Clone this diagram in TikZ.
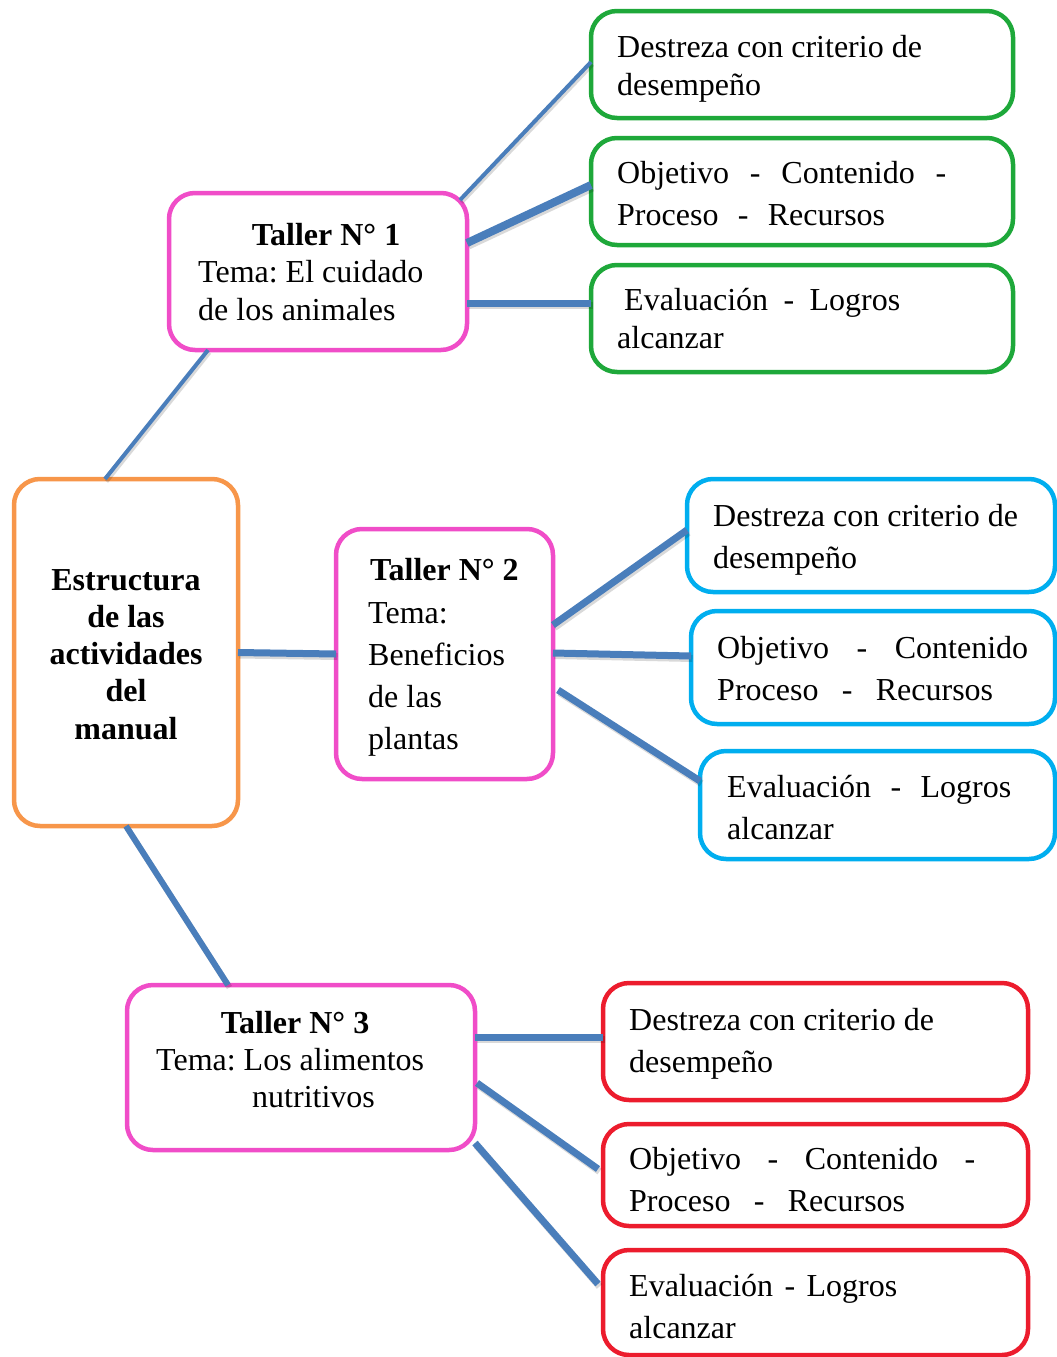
\documentclass[tikz,border=0pt]{standalone}
\usepackage{fontspec}
\setmainfont{Liberation Serif}
\usetikzlibrary{calc}
\frenchspacing
\definecolor{cpink}{HTML}{F04DC8}
\definecolor{cgreen}{HTML}{1EA83A}
\definecolor{cblue}{HTML}{00AEEF}
\definecolor{cred}{HTML}{EC1C2D}
\definecolor{corange}{HTML}{F7964A}
\definecolor{cline}{HTML}{4A7EBB}
\tikzset{
  boxx/.style={draw=#1, line width=4.5pt, rounded corners=26pt, rectangle, outer sep=0pt, inner sep=0pt, anchor=north west, fill=white},
  tx/.style={anchor=base west, inner sep=0pt, font=\fontsize{32}{38}\selectfont},
  txb/.style={anchor=base, inner sep=0pt, font=\fontsize{32}{38}\selectfont\bfseries},
  conn/.style={draw=cline, line width=#1, line cap=butt,
    preaction={draw=black, opacity=0.15, line width=#1, transform canvas={shift={(1.5pt,-2.5pt)}}}},
}
\begin{document}
\begin{tikzpicture}[x=1pt,y=-1pt]
\useasboundingbox (0,0) rectangle (1057,1357);
% boxes
\node[boxx=cgreen, minimum width=422pt, minimum height=107pt] (g1) at (591,11) {};
\node[boxx=cgreen, minimum width=422pt, minimum height=107pt] (g2) at (591,138) {};
\node[boxx=cgreen, minimum width=422pt, minimum height=107pt] (g3) at (591,265) {};
\node[boxx=cpink, minimum width=298pt, minimum height=157pt] (p1) at (169,193) {};
\node[boxx=corange, minimum width=224pt, minimum height=347pt] (o) at (14,479) {};
\node[boxx=cpink, minimum width=217pt, minimum height=250pt] (p2) at (336,529) {};
\node[boxx=cblue, minimum width=368pt, minimum height=113pt] (b1) at (687,479) {};
\node[boxx=cblue, minimum width=364pt, minimum height=113pt] (b2) at (691,611) {};
\node[boxx=cblue, minimum width=355pt, minimum height=108pt] (b3) at (700,751) {};
\node[boxx=cpink, minimum width=348pt, minimum height=165pt] (p3) at (127,985) {};
\node[boxx=cred, minimum width=425pt, minimum height=117pt] (r1) at (603,983) {};
\node[boxx=cred, minimum width=425pt, minimum height=102pt] (r2) at (603,1124) {};
\node[boxx=cred, minimum width=425pt, minimum height=105pt] (r3) at (603,1250) {};
% connectors
\draw[conn=4pt] ($(o.north west)+(91,0)$) -- ($(p1.south west)+(39,0)$);
\draw[conn=7pt] (o.east) -- (p2.west);
\draw[conn=6pt] ($(o.south west)+(112,0)$) -- ($(p3.north west)+(101,0)$);
\draw[conn=4pt] ($(p1.north east)+(-7,7)$) -- ($(g1.north west)+(0,51)$);
\draw[conn=8pt] ($(p1.north east)+(0,50)$) -- ($(g2.north west)+(0,47)$);
\draw[conn=7pt] ($(p1.north east)+(0,110)$) -- ($(g3.north west)+(0,38)$);
\draw[conn=7pt] ($(p2.north east)+(0,96)$) -- ($(b1.north west)+(0,51)$);
\draw[conn=7pt] ($(p2.north east)+(0,124)$) -- ($(b2.north west)+(0,45)$);
\draw[conn=7pt] ($(p2.north east)+(5,161)$) -- ($(b3.north west)+(0,30)$);
\draw[conn=7pt] ($(p3.north east)+(0,52)$) -- ($(r1.north west)+(0,54)$);
\draw[conn=7pt] ($(p3.north east)+(2,98)$) -- ($(r2.north west)+(-5,45)$);
\draw[conn=7pt] ($(p3.south east)+(0,-7)$) -- ($(r3.north west)+(-5,34)$);
% texts green
\node[tx] (g1a) at (617,57) {Destreza con criterio de};
\node[tx] (g1b) at (617,95) {desempeño};
\node[tx] (g2a) at (617,183) {\makebox[329pt][s]{Objetivo - Contenido -}};
\node[tx] (g2b) at (617,225) {\makebox[268pt][s]{Proceso - Recursos}};
\node[tx] (g3a) at (624,310) {\makebox[276pt][s]{Evaluación - Logros}};
\node[tx] (g3b) at (617,348) {alcanzar};
% taller 1
\node[txb] (p1a) at (326,245) {Taller N° 1};
\node[tx] (p1b) at (198,282) {Tema: El cuidado};
\node[tx] (p1c) at (198,320) {de los animales};
% orange
\node[txb] (oa) at (126,590) {Estructura};
\node[txb] (ob) at (126,627) {de las};
\node[txb] (oc) at (126,664) {actividades};
\node[txb] (od) at (126,701) {del};
\node[txb] (oe) at (126,739) {manual};
% taller 2
\node[tx, font=\fontsize{32}{38}\selectfont\bfseries] (p2a) at (370,580) {Taller N° 2};
\node[tx] (p2b) at (368,623) {Tema:};
\node[tx] (p2c) at (368,665) {Beneficios};
\node[tx] (p2d) at (368,707) {de las};
\node[tx] (p2e) at (368,749) {plantas};
% blue
\node[tx] (b1a) at (713,526) {Destreza con criterio de};
\node[tx] (b1b) at (713,568) {desempeño};
\node[tx] (b2a) at (717,658) {\makebox[311pt][s]{Objetivo - Contenido}};
\node[tx] (b2b) at (717,700) {\makebox[276pt][s]{Proceso - Recursos}};
\node[tx] (b3a) at (727,797) {\makebox[284pt][s]{Evaluación - Logros}};
\node[tx] (b3b) at (727,839) {alcanzar};
% taller 3
\node[txb] (p3a) at (295,1033) {Taller N° 3};
\node[tx] (p3b) at (156,1070) {Tema: Los alimentos};
\node[tx] (p3c) at (252,1107) {nutritivos};
% red
\node[tx] (r1a) at (629,1030) {Destreza con criterio de};
\node[tx] (r1b) at (629,1072) {desempeño};
\node[tx] (r2a) at (629,1169) {\makebox[346pt][s]{Objetivo - Contenido -}};
\node[tx] (r2b) at (629,1211) {\makebox[276pt][s]{Proceso - Recursos}};
\node[tx] (r3a) at (629,1296) {\makebox[268pt][s]{Evaluación - Logros}};
\node[tx] (r3b) at (629,1338) {alcanzar};
\end{tikzpicture}
\end{document}
